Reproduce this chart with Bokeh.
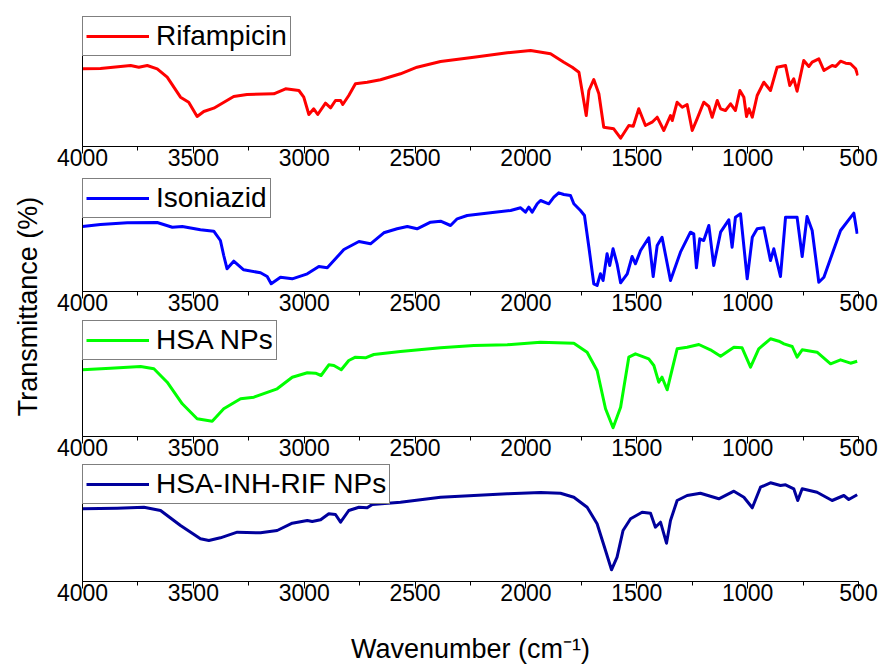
from bokeh.plotting import figure
from bokeh.models import Range1d, SingleIntervalTicker, FixedTicker, Legend, LegendItem, Title
from bokeh.layouts import row, column
from bokeh.embed import file_html
from bokeh.resources import INLINE

# ---------------- data (wavenumber in cm^-1, relative transmittance a.u.) ----------------
rif_wn = [4000, 3919, 3783, 3746, 3708, 3663, 3618, 3558, 3521, 3483, 3453, 3408, 3318, 3258, 3137,
          3084, 3024, 3002, 2979, 2957, 2939, 2904, 2881, 2859, 2836, 2826, 2799, 2769, 2716, 2656,
          2566, 2491, 2385, 2235, 2084, 1979, 1889, 1829, 1791, 1761, 1728, 1716, 1694, 1671, 1649,
          1604, 1573, 1536, 1516, 1491, 1461, 1431, 1408, 1378, 1348, 1340, 1318, 1295, 1273, 1250,
          1228, 1198, 1175, 1160, 1137, 1122, 1100, 1077, 1055, 1035, 1017, 1005, 994, 979, 957,
          927, 897, 867, 829, 810, 792, 777, 747, 724, 709, 679, 656, 619, 603, 581, 558, 536, 513, 503]
rif_t = [77.7, 78, 81, 79.3, 81, 77.7, 69.3, 49.3, 44.3, 30, 35, 38.3, 50, 52, 52.7,
         57.7, 56, 49.3, 32, 37.7, 32, 43.3, 38.7, 46, 46, 42, 51, 62.7, 64.3, 66.7,
         72.7, 79.3, 85, 89.3, 93.7, 96, 92.7, 84.3, 79.3, 74.3, 31, 56, 67, 52.7, 19.3,
         17.7, 8.3, 21, 20.3, 37.7, 21, 24.3, 29.3, 16, 31, 26, 44.3, 39.3, 42, 16,
         27.7, 44.3, 40, 29.3, 46, 37.7, 36, 42.7, 36, 56, 49.3, 30, 37.7, 29.3, 51,
         64.3, 56, 79.3, 81, 61, 67.7, 55.3, 86, 80, 84.3, 87.7, 76, 81, 80, 85.3, 83.3, 82.7, 77.7, 71]

inh_wn = [4000, 3919, 3798, 3663, 3595, 3550, 3468, 3408, 3378, 3363, 3348, 3318, 3273, 3197, 3167,
          3149, 3107, 3054, 2986, 2934, 2896, 2821, 2753, 2701, 2641, 2581, 2535, 2491, 2430, 2385,
          2340, 2310, 2265, 2160, 2069, 2024, 2002, 1987, 1972, 1949, 1934, 1897, 1874, 1852, 1829,
          1799, 1784, 1754, 1736, 1716, 1694, 1679, 1664, 1652, 1634, 1622, 1607, 1589, 1573, 1543,
          1521, 1506, 1483, 1446, 1426, 1408, 1386, 1348, 1303, 1258, 1243, 1231, 1216, 1198, 1175,
          1153, 1122, 1085, 1070, 1055, 1032, 1002, 979, 957, 927, 897, 882, 852, 829, 777,
          754, 732, 709, 679, 656, 581, 521, 506]
inh_t = [65, 67, 68.7, 69, 64.3, 65, 61.7, 60.3, 51, 36, 22.7, 30.3, 21.7, 18.7, 15,
         7.7, 14.3, 12.7, 17.7, 25, 23.7, 42, 50, 47.7, 58.7, 62.7, 65, 62.7, 69.3, 70.3,
         66, 72.7, 76, 78.7, 81, 83.7, 79.3, 84.3, 79.3, 87.7, 91, 87.7, 94.3, 98.7, 97,
         96, 87.7, 81, 76, 44.3, 7.7, 6, 17.7, 11, 37.7, 26, 42.7, 27.7, 8.7, 17.7,
         35, 27.7, 41, 53.7, 15, 46, 54.3, 11, 39.3, 59.3, 57.7, 23.7, 52.7, 51, 66,
         26, 59.3, 71.7, 44.3, 74.3, 77.7, 12.7, 54.3, 62.7, 63.7, 31, 42.7, 15, 74.3, 74.3,
         35, 75, 61, 9.3, 14.3, 61, 78.3, 57.7]

hsa_wn = [4000, 3874, 3738, 3678, 3618, 3550, 3483, 3415, 3363, 3287, 3227, 3122, 3054, 2986, 2949,
          2924, 2889, 2866, 2833, 2799, 2769, 2724, 2686, 2566, 2385, 2235, 2084, 1934, 1784, 1724,
          1679, 1641, 1607, 1573, 1536, 1506, 1446, 1423, 1401, 1386, 1363, 1318, 1273, 1220, 1168,
          1122, 1062, 1025, 987, 950, 897, 859, 836, 799, 777, 754, 687, 626, 581, 536, 506]
hsa_t = [66.7, 68.3, 70, 67.7, 54.3, 32.7, 17.7, 15.3, 27.7, 37.7, 39.3, 47.7, 59.3, 63.7, 63.3,
         61, 71.7, 71, 66.7, 76, 79.3, 78.7, 82, 85, 88.7, 91, 91.7, 94.3, 93.3, 84.3,
         66, 27.7, 8.7, 29.3, 79.3, 82.7, 77.7, 71, 54.3, 59.3, 46.7, 87.7, 89.3, 92, 86.7,
         80.3, 89.3, 88.7, 69.3, 87.7, 97.7, 95.3, 92.7, 90, 79.3, 86.7, 84.3, 72.7, 76.7, 73.3, 75.3]

mix_wn = [4000, 3844, 3723, 3648, 3558, 3468, 3430, 3378, 3302, 3197, 3122, 3054, 2986, 2964, 2926,
          2889, 2859, 2836, 2799, 2753, 2716, 2693, 2566, 2385, 2235, 2084, 1934, 1844, 1784, 1724,
          1679, 1641, 1614, 1589, 1562, 1528, 1476, 1438, 1416, 1393, 1366, 1348, 1318, 1273, 1213,
          1130, 1062, 1017, 979, 942, 897, 852, 829, 792, 774, 754, 687, 619, 566, 544, 506]
mix_t = [72.7, 73.3, 74.3, 71, 56, 42.7, 41, 43.7, 49.3, 48.7, 51, 58.3, 61, 60, 61.7,
         67.7, 67, 59.3, 71, 74.3, 73.7, 77, 79.3, 84.3, 86, 87.7, 89, 88.3, 84.3, 74.3,
         57.7, 31, 11.7, 24.3, 51, 62.7, 69.3, 68.3, 54.3, 59.3, 38.3, 61, 81, 86, 88.3,
         82.7, 90.3, 84.3, 73.7, 94.3, 98.7, 96, 96.7, 92.7, 81, 92.7, 89.3, 81, 86, 82, 86.7]

names = ["Rifampicin", "Isoniazid", "HSA NPs", "HSA-INH-RIF NPs"]
colors = ["#FF0000", "#0000FF", "#00FF00", "#00009C"]
x_ticks_interval = 500
x_label = "Wavenumber (cm\u207b\u00b9)"
y_label = "Transmittance (%)"

FONT = "Liberation Sans"
MAIN_W = 829


def make_panel(wn, t, color, name, height, top, bottom, ymax, xlabel=None):
    p = figure(width=MAIN_W, height=height, output_backend="svg", toolbar_location=None,
               x_range=Range1d(4000, 500), y_range=Range1d(0, ymax),
               min_border_left=32, min_border_right=MAIN_W - 32 - 776,
               min_border_top=top, min_border_bottom=bottom)
    p.grid.visible = False
    p.outline_line_color = None
    p.background_fill_color = "white"
    p.border_fill_color = "white"
    r = p.line(wn, t, line_color=color, line_width=3, line_join="round")

    xa = p.xaxis[0]
    xa.ticker = SingleIntervalTicker(interval=x_ticks_interval, num_minor_ticks=2)
    xa.axis_line_color = "black"
    xa.axis_line_width = 1
    xa.major_tick_in = 0
    xa.major_tick_out = 7
    xa.minor_tick_in = 0
    xa.minor_tick_out = 4
    xa.major_tick_line_color = "black"
    xa.minor_tick_line_color = "black"
    xa.major_label_standoff = -5
    xa.major_label_text_font = FONT
    xa.major_label_text_font_size = "23px"
    xa.major_label_text_color = "black"
    if xlabel:
        xa.axis_label = xlabel
        xa.axis_label_text_font = FONT
        xa.axis_label_text_font_size = "27px"
        xa.axis_label_text_font_style = "normal"
        xa.axis_label_text_color = "black"
        xa.axis_label_standoff = 30

    ya = p.yaxis[0]
    ya.ticker = FixedTicker(ticks=[])
    ya.major_tick_in = 0
    ya.major_tick_out = 0
    ya.minor_tick_in = 0
    ya.minor_tick_out = 0
    ya.major_label_text_font_size = "0px"
    ya.axis_line_color = "black"
    ya.axis_line_width = 1

    legend = Legend(items=[LegendItem(label=name, renderers=[r])], location="top_left",
                    margin=0, padding=3, spacing=0, label_standoff=7,
                    glyph_width=63, glyph_height=20,
                    label_text_font=FONT, label_text_font_size="28px",
                    label_text_color="black",
                    border_line_color="black", border_line_width=1,
                    background_fill_color="white", background_fill_alpha=1.0)
    p.add_layout(legend)
    return p


f1 = make_panel(rif_wn, rif_t, colors[0], names[0], 176, 16, 30, 130)
f2 = make_panel(inh_wn, inh_t, colors[1], names[1], 144, 2, 29, 113)
f3 = make_panel(hsa_wn, hsa_t, colors[2], names[2], 144, 0, 28, 116)
f4 = make_panel(mix_wn, mix_t, colors[3], names[3], 202, 0, 85, 117, xlabel=x_label)

lf = figure(width=50, height=666, output_backend="svg", toolbar_location=None,
            x_axis_type=None, y_axis_type=None,
            min_border_left=48, min_border_right=0, min_border_top=0, min_border_bottom=54,
            x_range=Range1d(0, 1), y_range=Range1d(0, 1))
lf.grid.visible = False
lf.outline_line_color = None
lf.add_layout(Title(text=y_label, align="center", standoff=12,
                    text_font=FONT, text_font_size="27px", text_font_style="normal",
                    text_color="black"), "left")

layout = row(lf, column(f1, f2, f3, f4))

open("out.html", "w").write(file_html(layout, INLINE))
